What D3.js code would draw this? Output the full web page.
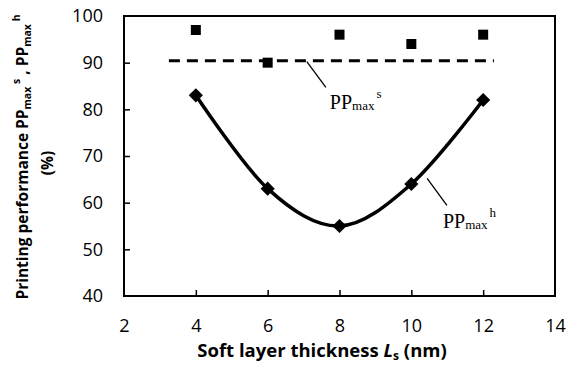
<!DOCTYPE html>
<html>
<head>
<meta charset="utf-8">
<script src="https://cdn.jsdelivr.net/npm/d3@7"></script>
<style>
  body { margin: 0; background: #fff; }
  svg { display: block; }
  .tick text { font-family: "Open Sans", sans-serif; font-size: 18px; fill: #000; }
  .tick line { stroke: #000; stroke-width: 1.5; }
</style>
</head>
<body>
<div id="draw-space"></div>
<script>
// data
const thickness = [4, 6, 8, 10, 12];
const ppSoft = [97, 90, 96, 94, 96];      // squares
const ppHard = [83, 63, 55, 64, 82];      // diamonds, smoothed line
const softMeanX = [3.25, 12.3];           // dashed reference line span
const softMean = 90.4;
const xTicks = [2, 4, 6, 8, 10, 12, 14];
const yTicks = [40, 50, 60, 70, 80, 90, 100];

// label anchors in data units: [leaderFromX, leaderFromY, leaderToX, leaderToY, textX, textY]
const labelS = [7.09, 90.2, 7.62, 84.7, 7.73, 80.1];
const labelH = [10.44, 65.2, 10.99, 59.4, 10.88, 54.6];

const W = 575, H = 370;
const margin = {top: 16, right: 20, bottom: 74, left: 124};

const svg = d3.select('#draw-space').append('svg')
              .attr('width', W)
              .attr('height', H);

const xScale = d3.scaleLinear()
                 .domain([2, 14])
                 .range([margin.left, W - margin.right]);

const yScale = d3.scaleLinear()
                 .domain([40, 100])
                 .range([H - margin.bottom, margin.top]);

// axes with inward ticks
svg.append('g')
   .attr('transform', `translate(0,${H - margin.bottom})`)
   .call(d3.axisBottom(xScale).tickValues(xTicks).tickSizeInner(-6).tickSizeOuter(0).tickPadding(23))
   .call(g => g.select('.domain').remove())
   .call(g => g.selectAll('.tick').filter(d => d === 2 || d === 14).select('line').remove());

svg.append('g')
   .attr('transform', `translate(${margin.left},0)`)
   .call(d3.axisLeft(yScale).tickValues(yTicks).tickSizeInner(-6).tickSizeOuter(0).tickPadding(21))
   .call(g => g.select('.domain').remove())
   .call(g => g.selectAll('.tick').filter(d => d === 40 || d === 100).select('line').remove());

svg.append('rect')
   .attr('x', xScale(2))
   .attr('y', yScale(100))
   .attr('width', xScale(14) - xScale(2))
   .attr('height', yScale(40) - yScale(100))
   .attr('fill', 'none')
   .attr('stroke', '#000')
   .attr('stroke-width', 2);

// dashed reference line
svg.append('line')
   .attr('x1', xScale(softMeanX[0]))
   .attr('x2', xScale(softMeanX[1]))
   .attr('y1', yScale(softMean))
   .attr('y2', yScale(softMean))
   .attr('stroke', '#000')
   .attr('stroke-width', 3)
   .attr('stroke-dasharray', '11,7');

// smoothed line for hard layer
const line = d3.line()
               .x(d => xScale(d[0]))
               .y(d => yScale(d[1]))
               .curve(d3.curveCardinal.tension(0));

svg.append('path')
   .datum(thickness.map((t, i) => [t, ppHard[i]]))
   .attr('d', line)
   .attr('fill', 'none')
   .attr('stroke', '#000')
   .attr('stroke-width', 3.5);

svg.selectAll('.diamond')
   .data(thickness.map((t, i) => [t, ppHard[i]]))
   .enter()
   .append('path')
   .attr('class', 'diamond')
   .attr('transform', d => `translate(${xScale(d[0])},${yScale(d[1])}) rotate(45)`)
   .attr('d', 'M-5,-5H5V5H-5Z')
   .attr('fill', '#000');

svg.selectAll('.square')
   .data(thickness.map((t, i) => [t, ppSoft[i]]))
   .enter()
   .append('rect')
   .attr('class', 'square')
   .attr('x', d => xScale(d[0]) - 5)
   .attr('y', d => yScale(d[1]) - 5)
   .attr('width', 10)
   .attr('height', 10)
   .attr('fill', '#000');

// series labels with leader lines
function seriesLabel(a, sup) {
  svg.append('line')
     .attr('x1', xScale(a[0])).attr('y1', yScale(a[1]))
     .attr('x2', xScale(a[2])).attr('y2', yScale(a[3]))
     .attr('stroke', '#000')
     .attr('stroke-width', 1.3);
  const t = svg.append('text')
               .attr('x', xScale(a[4]))
               .attr('y', yScale(a[5]))
               .attr('font-family', '"Liberation Serif", serif')
               .attr('font-size', 20);
  t.append('tspan').text('PP');
  t.append('tspan').attr('font-size', 13).attr('dy', 1).text('max');
  t.append('tspan').attr('font-size', 13).attr('dx', 2).attr('dy', -12).text(sup);
}
seriesLabel(labelS, 's');
seriesLabel(labelH, 'h');

// axis titles
const xt = svg.append('text')
              .attr('x', 322)
              .attr('y', 357)
              .attr('text-anchor', 'middle')
              .attr('font-family', '"Open Sans", sans-serif')
              .attr('font-weight', 'bold')
              .attr('font-size', 18.5);
xt.append('tspan').text('Soft layer thickness ');
xt.append('tspan').attr('font-style', 'italic').text('L');
xt.append('tspan').attr('font-size', 12).attr('dy', 3).text('s');
xt.append('tspan').attr('dy', -3).text(' (nm)');

const yt = svg.append('text')
              .attr('transform', 'translate(28,157) rotate(-90)')
              .attr('text-anchor', 'middle')
              .attr('font-family', '"Open Sans", sans-serif')
              .attr('font-weight', 'bold')
              .attr('font-size', 15.5);
yt.append('tspan').text('Printing performance PP');
yt.append('tspan').attr('font-size', 10.5).attr('dy', 3).text('max');
yt.append('tspan').attr('font-size', 10.5).attr('dy', -11).text(' s');
yt.append('tspan').attr('dy', 8).text(' , PP');
yt.append('tspan').attr('font-size', 10.5).attr('dy', 3).text('max');
yt.append('tspan').attr('font-size', 10.5).attr('dy', -11).text(' h');

svg.append('text')
   .attr('transform', 'translate(53,163) rotate(-90)')
   .attr('text-anchor', 'middle')
   .attr('font-family', '"Open Sans", sans-serif')
   .attr('font-weight', 'bold')
   .attr('font-size', 15.5)
   .text('(%)');
</script>
</body>
</html>
